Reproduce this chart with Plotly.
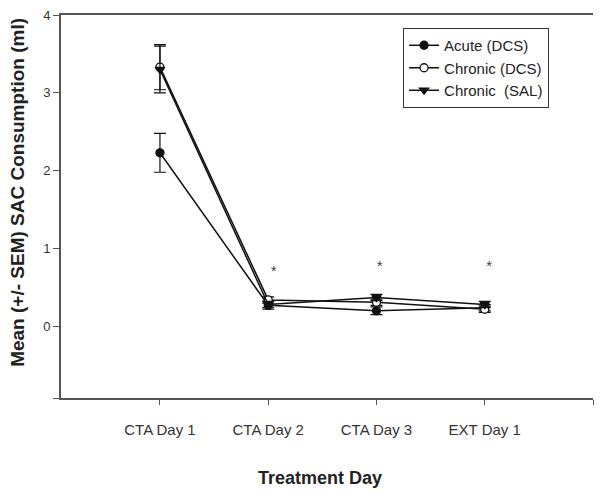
import plotly.graph_objects as go

# data
days = ["CTA Day 1", "CTA Day 2", "CTA Day 3", "EXT Day 1"]
pos = [1, 2, 3, 4]

acute_dcs = [2.23, 0.27, 0.20, 0.24]
acute_dcs_sem = [0.25, 0.05, 0.05, 0.04]

chronic_dcs = [3.33, 0.34, 0.31, 0.22]
chronic_dcs_sem = [0.29, 0.04, 0.04, 0.04]

chronic_sal = [3.30, 0.28, 0.37, 0.28]
chronic_sal_sem = [0.30, 0.04, 0.04, 0.04]

star_pos = [2.05, 3.03, 4.04]
star_y = [0.70, 0.76, 0.76]

y_ticks = [-0.92, 0, 1, 2, 3, 4]
y_ticktext = ["", "0", "1", "2", "3", "4"]

ink = "#111111"
axis_col = "#555555"

fig = go.Figure()

# name, values, sem, symbol, fill colour
series = [
    ("Acute (DCS)", acute_dcs, acute_dcs_sem, "circle", ink),
    ("Chronic (DCS)", chronic_dcs, chronic_dcs_sem, "circle", "white"),
    ("Chronic  (SAL)", chronic_sal, chronic_sal_sem, "triangle-down", ink),
]

for name, vals, sem, sym, fill in series:
    fig.add_trace(go.Scatter(
        x = pos,
        y = vals,
        name = name,
        mode = "lines+markers",
        line = dict(color = ink, width = 1.5),
        marker = dict(symbol = sym, size = 8, color = fill,
                      line = dict(color = ink, width = 1.3)),
        error_y = dict(type = "data", array = sem, color = ink, thickness = 1.2, width = 6),
    ))

fig.add_trace(go.Scatter(
    x = star_pos,
    y = star_y,
    mode = "text",
    text = ["*"] * len(star_pos),
    textfont = dict(size = 15, color = "#444444", family = "Arial, Liberation Sans"),
    showlegend = False,
    hoverinfo = "skip",
))

# the page body has an 8px default margin, so the figure is sized to fit inside it
fig.update_layout(
    width = 597,
    height = 490,
    margin = dict(l = 53, r = 12, t = 7, b = 100),
    plot_bgcolor = "white",
    paper_bgcolor = "white",
    font = dict(family = "Arial, Liberation Sans, sans-serif", color = "#333333", size = 15),
    legend = dict(
        x = 0.643, y = 0.966, xanchor = "left", yanchor = "top",
        bordercolor = "#333333", borderwidth = 1, bgcolor = "white",
        font = dict(size = 15, color = "#222222"),
        tracegroupgap = 0, itemwidth = 30,
    ),
    xaxis = dict(
        range = [0.086, 5.0],
        tickvals = pos + [5.0],
        ticktext = days + [""],
        ticks = "outside", ticklen = 5, tickcolor = axis_col,
        showline = True, linecolor = axis_col, linewidth = 2, mirror = True,
        showgrid = False, zeroline = False, automargin = False,
        ticklabelstandoff = 12,
    ),
    yaxis = dict(
        range = [-0.92, 4.0],
        tickvals = y_ticks,
        ticktext = y_ticktext,
        tickfont = dict(size = 13),
        ticks = "outside", ticklen = 6, tickcolor = axis_col,
        showline = True, linecolor = axis_col, linewidth = 2,
        showgrid = False, zeroline = False, automargin = False,
        ticklabeloverflow = "allow",
    ),
    annotations = [
        dict(text = "<b>Treatment Day</b>", xref = "paper", yref = "paper",
             x = 0.487, y = -0.209, xanchor = "center", yanchor = "middle",
             showarrow = False, font = dict(size = 18, color = "#222222")),
        dict(text = "<b>Mean (+/- SEM) SAC Consumption (ml)</b>", xref = "paper", yref = "paper",
             x = -0.081, y = 0.538, xanchor = "center", yanchor = "middle", textangle = -90,
             showarrow = False, font = dict(size = 19, color = "#222222")),
    ],
)

fig.write_html("out.html")
